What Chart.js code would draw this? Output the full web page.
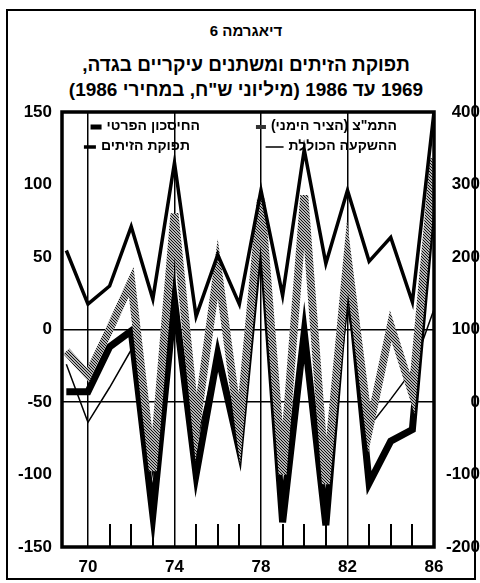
<!DOCTYPE html>
<html lang="he">
<head>
<meta charset="utf-8">
<script src="https://cdn.jsdelivr.net/npm/chart.js@4.4.1/dist/chart.umd.min.js"></script>
<style>
    html, body { margin: 0; padding: 0; background: #fff; }
    #page { position: relative; width: 480px; height: 583px; overflow: hidden; }
    #frame { position: absolute; left: 6px; top: 9px; width: 470px; height: 571px; box-sizing: border-box; border: 2px solid #000; }
    .title { position: absolute; left: 0; width: 492px; text-align: center; direction: rtl; color: #000;
             font-family: "Liberation Sans", "DejaVu Sans", sans-serif; font-weight: bold; white-space: nowrap; }
    #t1 { top: 22px; font-size: 15px; }
    #t2 { top: 54px; font-size: 19px; }
    #t3 { top: 79px; font-size: 19px; }
    #wrap { position: absolute; left: 0; top: 0; width: 480px; height: 583px; }
</style>
</head>
<body>
<div id="page">
    <div id="frame"></div>
    <div class="title" id="t1">דיאגרמה 6</div>
    <div class="title" id="t2">תפוקת הזיתים ומשתנים עיקריים בגדה,</div>
    <div class="title" id="t3">1969 עד 1986 (מיליוני ש"ח, במחירי 1986)</div>
    <div id="wrap"><canvas id="chart"></canvas></div>
</div>
<script>
// years (x axis)
const years = [69, 70, 71, 72, 73, 74, 75, 76, 77, 78, 79, 80, 81, 82, 83, 84, 85, 86];
const majorYears = [70, 74, 78, 82];
const minorYears = [71, 72, 73, 75, 76, 77, 79, 80, 81, 83, 84, 85];

// right axis series
const oliveOutput = [209, 135, 160, 242, 142, 330, 118, 203, 135, 292, 147, 348, 191, 292, 194, 227, 138, 400];
const gdpRight = [70, 37, 100, 166, -95, 260, -35, 184, -37, 280, -100, 285, -113, 200, -37, 105, 11, 336];

// left axis series
const privateSaving = [-43, -43, -12, -1, -128, 20, -100, -17, -83, 70, -133, -2, -135, 45, -106, -77, -69, 99];
const totalInvestment = [-24, -64, -40, -14, -100, 10, -80, -15, -70, 55, -110, -5, -115, 15, -67, -48, -28, 14];

const leftTicks = [-150, -100, -50, 0, 50, 100, 150];
const rightTicks = [-200, -100, 0, 100, 200, 300, 400];

const labels = {
    olive: 'תפוקת הזיתים',
    gdp: 'התמ"צ (הציר הימני)',
    saving: 'החיסכון הפרטי',
    invest: 'ההשקעה הכוללת'
};

// stippled grey for the right-axis product line
function makeHatch() {
    const c = document.createElement('canvas');
    c.width = 3;
    c.height = 3;
    const g = c.getContext('2d');
    g.fillStyle = '#b4b4b4';
    g.fillRect(0, 0, 3, 3);
    g.fillStyle = '#111';
    g.fillRect(0, 0, 1, 1);
    g.fillRect(1, 1, 1, 1);
    g.fillRect(2, 2, 1, 1);
    return g.createPattern(c, 'repeat');
}

const FONT = '"Liberation Sans", "DejaVu Sans", sans-serif';
const hatch = makeHatch();

// plot frame, minor year ticks and the in-plot legend
const decorPlugin = {
    id: 'decor',
    afterDraw(chart) {
        const { ctx, chartArea: a } = chart;
        const xs = chart.scales.x;
        ctx.save();
        ctx.fillStyle = '#000';
        minorYears.forEach(v => {
            const px = Math.round(xs.getPixelForValue(v));
            ctx.fillRect(px - 1, a.bottom - 23, 2, 23);
        });
        ctx.strokeStyle = '#000';
        ctx.lineWidth = 3.5;
        ctx.strokeRect(a.left, a.top, a.right - a.left, a.bottom - a.top);

        // legend
        const items = [
            { ds: 1, right: a.left + 335, y: a.top + 14, w: 10, h: 4 },
            { ds: 2, right: a.left + 138, y: a.top + 14, w: 11, h: 5 },
            { ds: 3, right: a.left + 335, y: a.top + 34, w: 18, h: 1.5 },
            { ds: 0, right: a.left + 128, y: a.top + 34, w: 12, h: 3.5 }
        ];
        ctx.font = 'bold 14px ' + FONT;
        ctx.direction = 'rtl';
        ctx.textAlign = 'right';
        ctx.textBaseline = 'middle';
        items.forEach(it => {
            const ds = chart.data.datasets[it.ds];
            ctx.fillStyle = '#000';
            ctx.fillText(ds.label, it.right, it.y);
            const tw = ctx.measureText(ds.label).width;
            ctx.fillStyle = it.ds === 1 ? '#333' : '#000';
            ctx.fillRect(it.right - tw - 5 - it.w, it.y - it.h / 2 + 1, it.w, it.h);
        });
        ctx.restore();
    }
};

const ctx = document.getElementById('chart').getContext('2d');
new Chart(ctx, {
    type: 'line',
    data: {
        labels: years,
        datasets: [
            {
                label: labels.olive,
                data: oliveOutput,
                yAxisID: 'y2',
                borderColor: '#000',
                borderWidth: 3.5,
                order: 1
            },
            {
                label: labels.gdp,
                data: gdpRight,
                yAxisID: 'y2',
                borderColor: hatch,
                borderWidth: 8,
                order: 2
            },
            {
                label: labels.saving,
                data: privateSaving,
                yAxisID: 'y',
                borderColor: '#000',
                borderWidth: 7,
                order: 3
            },
            {
                label: labels.invest,
                data: totalInvestment,
                yAxisID: 'y',
                borderColor: '#000',
                borderWidth: 1.5,
                order: 4
            }
        ].map(d => ({ ...d, pointRadius: 0, tension: 0, fill: false, borderJoinStyle: 'miter' }))
    },
    options: {
        responsive: true,
        maintainAspectRatio: false,
        animation: false,
        layout: { padding: { top: 112, left: 0, right: 0, bottom: 0 } },
        plugins: {
            legend: { display: false },
            tooltip: { enabled: false }
        },
        scales: {
            x: {
                type: 'linear',
                min: 68.8,
                max: 86,
                afterBuildTicks: s => { s.ticks = years.map(v => ({ value: v })); },
                afterFit: s => { s.height = 36; },
                border: { display: false },
                grid: {
                    drawTicks: false,
                    lineWidth: 1.5,
                    color: c => majorYears.includes(c.tick && c.tick.value) ? '#000' : 'rgba(0,0,0,0)'
                },
                ticks: {
                    autoSkip: false,
                    maxRotation: 0,
                    padding: 10,
                    color: '#000',
                    font: { family: FONT, size: 17, weight: 'bold' },
                    callback: v => ((v - 70) % 4 === 0 ? String(v) : '')
                }
            },
            y: {
                position: 'left',
                min: -150,
                max: 150,
                afterBuildTicks: s => { s.ticks = leftTicks.map(v => ({ value: v })); },
                afterFit: s => { s.width = 62; },
                border: { display: false },
                grid: {
                    drawTicks: false,
                    lineWidth: 1.5,
                    color: c => (c.tick && c.tick.value === 0 ? '#000' : 'rgba(0,0,0,0)')
                },
                ticks: {
                    padding: 10,
                    color: '#000',
                    font: { family: FONT, size: 17, weight: 'bold' }
                }
            },
            y2: {
                position: 'right',
                min: -200,
                max: 400,
                afterBuildTicks: s => { s.ticks = rightTicks.map(v => ({ value: v })); },
                afterFit: s => { s.width = 46; },
                border: { display: false },
                grid: {
                    drawTicks: false,
                    lineWidth: 1.5,
                    color: c => (c.tick && c.tick.value === 0 ? '#000' : 'rgba(0,0,0,0)')
                },
                ticks: {
                    padding: 6,
                    crossAlign: 'far',
                    color: '#000',
                    font: { family: FONT, size: 17, weight: 'bold' }
                }
            }
        }
    },
    plugins: [decorPlugin]
});
</script>
</body>
</html>
